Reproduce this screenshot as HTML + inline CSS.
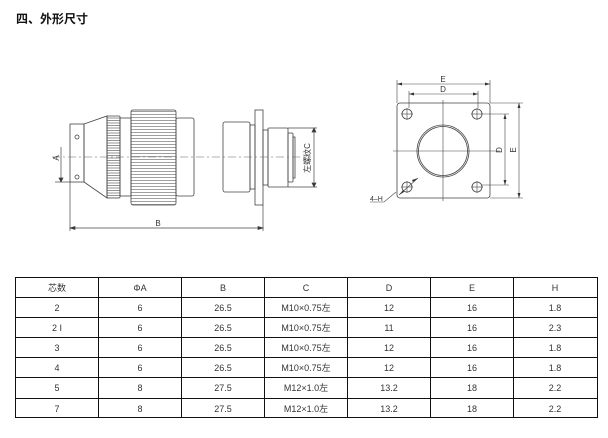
<!DOCTYPE html>
<html><head><meta charset="utf-8"><style>
html,body{margin:0;padding:0;background:#fff;}
body{width:608px;height:438px;overflow:hidden;position:relative;}
svg{position:absolute;left:0;top:0;}
</style></head><body>
<svg width="608" height="438" viewBox="0 0 608 438" xmlns="http://www.w3.org/2000/svg" font-family="'Liberation Sans','Noto Sans CJK SC',sans-serif">
<defs>
<pattern id="k1" width="4" height="3" patternUnits="userSpaceOnUse"><line x1="0" y1="0.5" x2="4" y2="0.5" stroke="#777" stroke-width="0.7"/></pattern>
<pattern id="k2" width="4" height="2.5" patternUnits="userSpaceOnUse"><line x1="0" y1="0.5" x2="4" y2="0.5" stroke="#666" stroke-width="0.7"/></pattern>
</defs>
<text x="16" y="23" font-size="12" font-weight="bold" fill="#111">四、外形尺寸</text>

<g fill="none" stroke="#444" stroke-width="0.8">
<!-- plug -->
<rect x="70" y="124" width="14" height="58"/>
<polygon points="84,124 107,116 107,198 84,182"/>
<rect x="107" y="116" width="13" height="82" rx="1" fill="url(#k2)"/>
<rect x="120" y="118" width="11" height="78"/>
<rect x="131" y="110" width="45" height="95" rx="2" fill="url(#k1)"/>
<rect x="176" y="118" width="18" height="78" rx="2"/>
<circle cx="77" cy="137" r="2"/><circle cx="77" cy="177" r="2"/>
<!-- receptacle -->
<rect x="223" y="122" width="27" height="70" rx="2"/>
<rect x="250" y="125" width="5" height="64"/>
<rect x="255" y="110" width="8" height="95"/>
<rect x="263" y="130" width="5" height="55"/>
<rect x="268" y="128" width="20" height="59" rx="1"/>
<rect x="288" y="133" width="5" height="49" rx="1"/>
<rect x="293" y="137" width="2" height="41"/>
</g>
<line x1="52" y1="157" x2="310" y2="157" stroke="#666" stroke-width="0.6" stroke-dasharray="8,3,2,3"/>
<g stroke="#444" stroke-width="0.7" fill="#333">
<line x1="61" y1="147" x2="61" y2="182"/><line x1="55" y1="182" x2="70" y2="182"/>
<polygon points="59,178 63,178 61,182"/>
<line x1="314" y1="128" x2="314" y2="187"/><line x1="288" y1="128" x2="317" y2="128"/><line x1="288" y1="187" x2="317" y2="187"/>
<polygon points="312,132 316,132 314,128"/><polygon points="312,183 316,183 314,187"/>
<line x1="70" y1="182" x2="70" y2="231"/><line x1="263" y1="205" x2="263" y2="231"/>
<line x1="70" y1="228" x2="263" y2="228"/>
<polygon points="70,228 75,226.5 75,229.5"/><polygon points="263,228 258,226.5 258,229.5"/>
</g>
<text x="158" y="226" font-size="8" fill="#333" text-anchor="middle">B</text>
<text transform="translate(59,158) rotate(-90)" font-size="8" fill="#333" text-anchor="middle">A</text>
<text transform="translate(310,158) rotate(-90)" font-size="8" fill="#333" text-anchor="middle">左螺纹C</text>

<!-- flange view -->
<g fill="none" stroke="#444" stroke-width="0.8">
<rect x="397" y="103" width="93" height="95" rx="3"/>
<circle cx="407" cy="114" r="5"/><circle cx="477" cy="114" r="5"/>
<circle cx="407" cy="187" r="5"/><circle cx="477" cy="187" r="5"/>
<circle cx="443" cy="151" r="26"/><circle cx="443" cy="151" r="24.5"/>
</g>
<g stroke="#444" stroke-width="0.6">
<line x1="393" y1="151" x2="500" y2="151"/><line x1="443" y1="100" x2="443" y2="201"/>
<line x1="401" y1="114" x2="413" y2="114"/><line x1="407" y1="108" x2="407" y2="120"/>
<line x1="471" y1="114" x2="483" y2="114"/><line x1="477" y1="108" x2="477" y2="120"/>
<line x1="401" y1="187" x2="413" y2="187"/><line x1="407" y1="181" x2="407" y2="193"/>
<line x1="471" y1="187" x2="483" y2="187"/><line x1="477" y1="181" x2="477" y2="193"/>
<line x1="397" y1="80" x2="397" y2="103"/><line x1="490" y1="80" x2="490" y2="103"/>
<line x1="397" y1="84" x2="490" y2="84"/>
<line x1="409" y1="91" x2="409" y2="108"/><line x1="478" y1="91" x2="478" y2="108"/>
<line x1="409" y1="94" x2="478" y2="94"/>
<line x1="482" y1="114" x2="509" y2="114"/><line x1="482" y1="185" x2="509" y2="185"/>
<line x1="505" y1="114" x2="505" y2="185"/>
<line x1="490" y1="103" x2="523" y2="103"/><line x1="490" y1="198" x2="523" y2="198"/>
<line x1="519" y1="103" x2="519" y2="198"/>
<line x1="399" y1="195" x2="418" y2="178"/>
<polyline points="370,202 384,202 396,192" fill="none"/>
</g>
<g fill="#333">
<polygon points="397,84 402,82.5 402,85.5"/><polygon points="490,84 485,82.5 485,85.5"/>
<polygon points="409,94 414,92.5 414,95.5"/><polygon points="478,94 473,92.5 473,95.5"/>
<polygon points="503.5,119 506.5,119 505,114"/><polygon points="503.5,180 506.5,180 505,185"/>
<polygon points="517.5,108 520.5,108 519,103"/><polygon points="517.5,193 520.5,193 519,198"/>
<polygon points="399,195 403,190 404,192"/><polygon points="418,178 413,182 412,180"/>
</g>
<text x="443" y="82" font-size="8" fill="#333" text-anchor="middle">E</text>
<text x="443" y="92" font-size="8" fill="#333" text-anchor="middle">D</text>
<text transform="translate(502,150) rotate(-90)" font-size="8" fill="#333" text-anchor="middle">D</text>
<text transform="translate(516,150) rotate(-90)" font-size="8" fill="#333" text-anchor="middle">E</text>
<text x="370" y="201" font-size="7" fill="#333">4–H</text>

<!-- table -->
<g stroke="#111" stroke-width="1" fill="none">
<rect x="15.5" y="277.5" width="582" height="140"/>
<line x1="15" y1="297.5" x2="598" y2="297.5"/>
<line x1="15" y1="317.5" x2="598" y2="317.5"/>
<line x1="15" y1="337.5" x2="598" y2="337.5"/>
<line x1="15" y1="357.5" x2="598" y2="357.5"/>
<line x1="15" y1="377.5" x2="598" y2="377.5"/>
<line x1="15" y1="398.5" x2="598" y2="398.5"/>
<line x1="98.5" y1="277" x2="98.5" y2="418"/>
<line x1="181.5" y1="277" x2="181.5" y2="418"/>
<line x1="264.5" y1="277" x2="264.5" y2="418"/>
<line x1="347.5" y1="277" x2="347.5" y2="418"/>
<line x1="430.5" y1="277" x2="430.5" y2="418"/>
<line x1="513.5" y1="277" x2="513.5" y2="418"/>
</g>
<g font-size="9" fill="#333" text-anchor="middle">
<text x="57" y="291">芯数</text><text x="140" y="291">ΦA</text><text x="223" y="291">B</text><text x="306" y="291">C</text><text x="389" y="291">D</text><text x="472" y="291">E</text><text x="555" y="291">H</text>
<text x="57" y="311">2</text><text x="140" y="311">6</text><text x="223" y="311">26.5</text><text x="306" y="311">M10×0.75左</text><text x="389" y="311">12</text><text x="472" y="311">16</text><text x="555" y="311">1.8</text>
<text x="57" y="331">2 I</text><text x="140" y="331">6</text><text x="223" y="331">26.5</text><text x="306" y="331">M10×0.75左</text><text x="389" y="331">11</text><text x="472" y="331">16</text><text x="555" y="331">2.3</text>
<text x="57" y="351">3</text><text x="140" y="351">6</text><text x="223" y="351">26.5</text><text x="306" y="351">M10×0.75左</text><text x="389" y="351">12</text><text x="472" y="351">16</text><text x="555" y="351">1.8</text>
<text x="57" y="371">4</text><text x="140" y="371">6</text><text x="223" y="371">26.5</text><text x="306" y="371">M10×0.75左</text><text x="389" y="371">12</text><text x="472" y="371">16</text><text x="555" y="371">1.8</text>
<text x="57" y="391">5</text><text x="140" y="391">8</text><text x="223" y="391">27.5</text><text x="306" y="391">M12×1.0左</text><text x="389" y="391">13.2</text><text x="472" y="391">18</text><text x="555" y="391">2.2</text>
<text x="57" y="412">7</text><text x="140" y="412">8</text><text x="223" y="412">27.5</text><text x="306" y="412">M12×1.0左</text><text x="389" y="412">13.2</text><text x="472" y="412">18</text><text x="555" y="412">2.2</text>
</g>
</svg>
</body></html>
